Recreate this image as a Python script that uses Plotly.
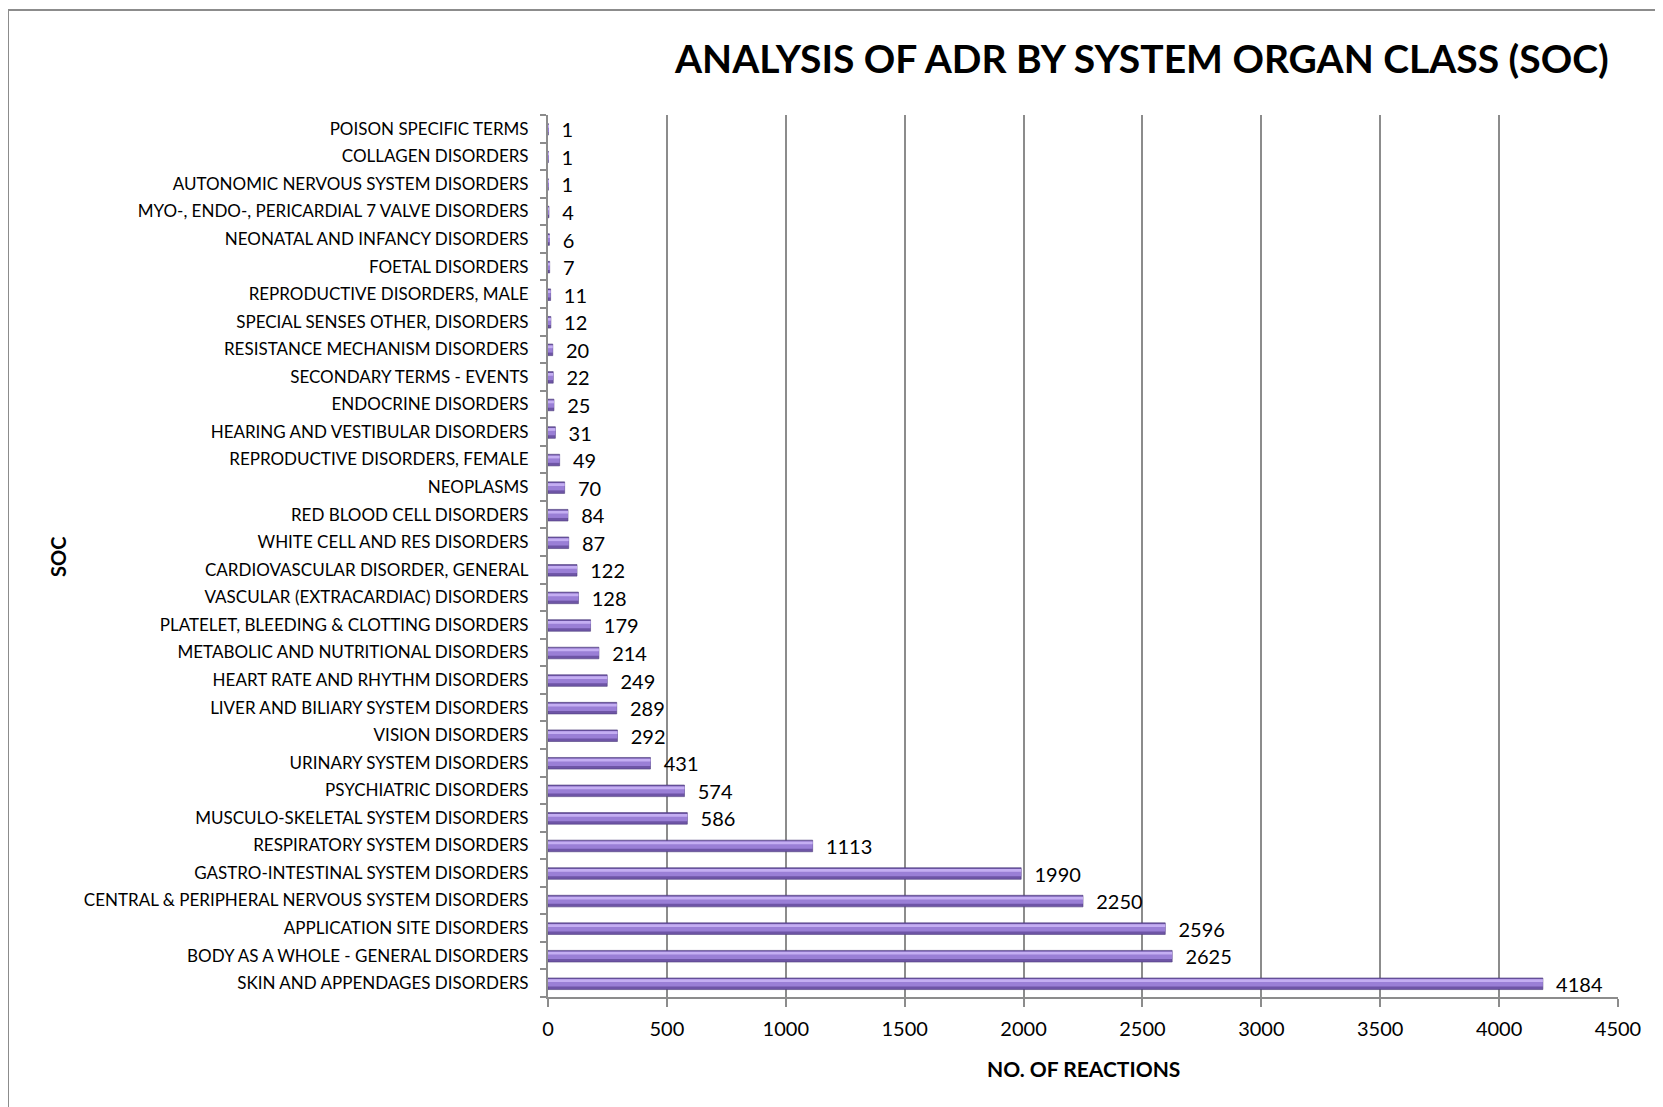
import plotly.graph_objects as go

categories = [
    "SKIN AND APPENDAGES DISORDERS",
    "BODY AS A WHOLE - GENERAL DISORDERS",
    "APPLICATION SITE DISORDERS",
    "CENTRAL & PERIPHERAL NERVOUS SYSTEM DISORDERS",
    "GASTRO-INTESTINAL SYSTEM DISORDERS",
    "RESPIRATORY SYSTEM DISORDERS",
    "MUSCULO-SKELETAL SYSTEM DISORDERS",
    "PSYCHIATRIC DISORDERS",
    "URINARY SYSTEM DISORDERS",
    "VISION DISORDERS",
    "LIVER AND BILIARY SYSTEM DISORDERS",
    "HEART RATE AND RHYTHM DISORDERS",
    "METABOLIC AND NUTRITIONAL DISORDERS",
    "PLATELET, BLEEDING & CLOTTING DISORDERS",
    "VASCULAR (EXTRACARDIAC) DISORDERS",
    "CARDIOVASCULAR DISORDER, GENERAL",
    "WHITE CELL AND RES DISORDERS",
    "RED BLOOD CELL DISORDERS",
    "NEOPLASMS",
    "REPRODUCTIVE DISORDERS, FEMALE",
    "HEARING AND VESTIBULAR DISORDERS",
    "ENDOCRINE DISORDERS",
    "SECONDARY TERMS - EVENTS",
    "RESISTANCE MECHANISM DISORDERS",
    "SPECIAL SENSES OTHER, DISORDERS",
    "REPRODUCTIVE DISORDERS, MALE",
    "FOETAL DISORDERS",
    "NEONATAL AND INFANCY DISORDERS",
    "MYO-, ENDO-, PERICARDIAL 7 VALVE DISORDERS",
    "AUTONOMIC NERVOUS SYSTEM DISORDERS",
    "COLLAGEN DISORDERS",
    "POISON SPECIFIC TERMS",
]
reactions = [4184, 2625, 2596, 2250, 1990, 1113, 586, 574, 431, 292, 289, 249,
             214, 179, 128, 122, 87, 84, 70, 49, 31, 25, 22, 20, 12, 11, 7, 6,
             4, 1, 1, 1]
x_ticks = [0, 500, 1000, 1500, 2000, 2500, 3000, 3500, 4000, 4500]

title_text = "ANALYSIS OF ADR BY SYSTEM ORGAN CLASS (SOC)"
x_title = "NO. OF REACTIONS"
y_title = "SOC"

FONT = "Lato"

fig = go.Figure()
# dark base of cylinder-like bar
fig.add_trace(go.Bar(
    y=categories, x=reactions, orientation="h",
    width=0.42, offset=-0.23,
    marker=dict(color="#6E55A6", line=dict(color="#4E3C7C", width=0.6)),
    text=["  " + str(v) for v in reactions], textposition="outside",
    constraintext="none",
    textfont=dict(family=FONT, size=20, color="#000000"),
    cliponaxis=False, hoverinfo="skip", showlegend=False,
))
# mid tone
fig.add_trace(go.Bar(
    y=categories, x=reactions, orientation="h",
    width=0.26, offset=-0.12,
    marker=dict(color="#9A7FD6", line=dict(width=0)),
    hoverinfo="skip", showlegend=False,
))
# highlight strip
fig.add_trace(go.Bar(
    y=categories, x=reactions, orientation="h",
    width=0.1, offset=0.04,
    marker=dict(color="#C4AEF2", line=dict(width=0)),
    hoverinfo="skip", showlegend=False,
))

# page has an 8px body margin; targets are shifted accordingly
OFF = 8
L, R, T, B = 548 - OFF, 1618 - OFF, 115 - OFF, 997 - OFF
W, H = 1663, 1107


def px(xp):
    return (xp - OFF - L) / (R - L)


def py(yp):
    return (B - (yp - OFF)) / (B - T)


fig.update_layout(
    width=W, height=H,
    margin=dict(l=L, r=W - R, t=T, b=H - B, pad=0),
    paper_bgcolor="white", plot_bgcolor="white",
    barmode="overlay",
    font=dict(family=FONT, color="#000000"),
    xaxis=dict(
        range=[0, 4500], tickvals=x_ticks, ticktext=[str(t) for t in x_ticks],
        showgrid=True, gridcolor="#8C8C8C", gridwidth=1.5,
        showline=True, linecolor="#8C8C8C", linewidth=2,
        ticks="outside", ticklen=8, tickwidth=1.5, tickcolor="#8C8C8C",
        tickfont=dict(family=FONT, size=20, color="#000000"),
        ticklabelstandoff=5, zeroline=False,
    ),
    yaxis=dict(
        categoryorder="array", categoryarray=categories,
        showgrid=False, showline=True, linecolor="#8C8C8C", linewidth=2,
        ticks="outside", ticklen=6, tickwidth=1.5, tickcolor="#8C8C8C",
        tickson="boundaries",
        tickfont=dict(family=FONT, size=17, color="#000000"),
        ticklabelstandoff=14,
        range=[-0.5, len(categories) - 0.5],
    ),
    annotations=[
        dict(text="<b>" + title_text + "</b>", x=px(1141), y=py(58),
             xref="paper", yref="paper", xanchor="center", yanchor="middle",
             showarrow=False, font=dict(family=FONT, size=39, color="#000000")),
        dict(text="<b>" + x_title + "</b>", x=px(1083), y=py(1068),
             xref="paper", yref="paper", xanchor="center", yanchor="middle",
             showarrow=False, font=dict(family=FONT, size=21, color="#000000")),
        dict(text="<b>" + y_title + "</b>", x=px(58), y=py(557), textangle=-90,
             xref="paper", yref="paper", xanchor="center", yanchor="middle",
             showarrow=False, font=dict(family=FONT, size=20, color="#000000")),
    ],
    shapes=[
        dict(type="line", xref="paper", yref="paper", x0=px(8), y0=py(10),
             x1=px(1680), y1=py(10), line=dict(color="#8C8C8C", width=2)),
        dict(type="line", xref="paper", yref="paper", x0=px(8), y0=py(10),
             x1=px(8), y1=py(1120), line=dict(color="#8C8C8C", width=2)),
    ],
)

fig.write_html("out.html")
